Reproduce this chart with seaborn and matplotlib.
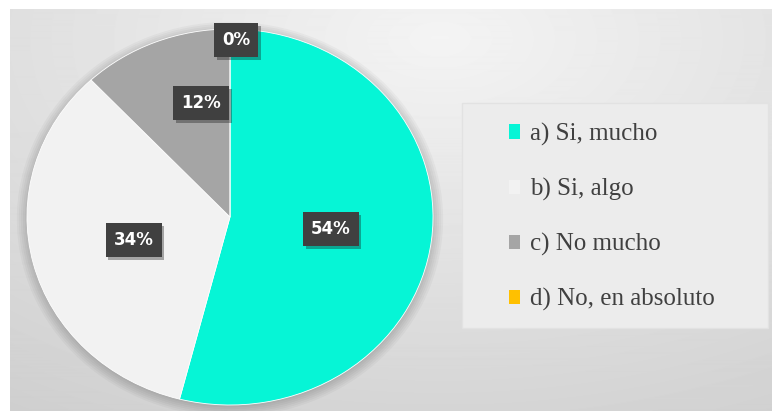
import numpy as np
import matplotlib
matplotlib.use("Agg")
import matplotlib.pyplot as plt
import seaborn as sns
from matplotlib.patches import Patch, Rectangle, Ellipse
from matplotlib import patheffects as pe

# Survey answers and their shares (%)
categories = ["a) Si, mucho", "b) Si, algo", "c) No mucho", "d) No, en absoluto"]
shares = [54, 34, 12, 0]
pct_labels = ["54%", "34%", "12%", "0%"]
colors = ["#06f5d6", "#f2f2f2", "#a5a5a5", "#ffc000"]

sns.set_style("white")
plt.rcParams["font.family"] = ["DejaVu Sans"]

W, H = 772, 411
fig = plt.figure(figsize=(W / 100, H / 100), dpi=100, facecolor="white")

# Soft radial gray backdrop
bg = fig.add_axes([10 / W, 0, (W - 10) / W, (H - 9) / H])
yy, xx = np.mgrid[0:H - 9, 0:W - 10]
d = np.sqrt(((xx - 430) / 700.0) ** 2 + ((yy - 30) / 400.0) ** 2)
shade = np.clip(0.955 - 0.13 * d, 0.0, 1.0)
bg.imshow(shade, cmap="gray", vmin=0, vmax=1, aspect="auto", interpolation="bilinear")
bg.set_axis_off()

# Pie axes (slightly stretched horizontally)
cx, cy, rx, ry = 230, 217, 203, 188
ax = fig.add_axes([(cx - rx) / W, (H - cy - ry) / H, 2 * rx / W, 2 * ry / H])
ax.set_xlim(-1, 1)
ax.set_ylim(-1, 1)

# soft drop shadow behind the pie
for k in range(6):
    sh = Ellipse((0.0, -0.012), 2 * (1.0 + 0.01 * k), 2 * (1.0 + 0.01 * k),
                 facecolor="black", edgecolor="none", alpha=0.03, zorder=0)
    sh.set_clip_on(False)
    ax.add_patch(sh)

wedges, _ = ax.pie(shares, colors=colors, startangle=90, counterclock=False,
                   radius=1.0, wedgeprops=dict(linewidth=0.6, edgecolor="white"))
ax.set_aspect("auto")
ax.set_xlim(-1.0, 1.0)
ax.set_ylim(-1.0, 1.0)
ax.set_axis_off()

# Data labels in dark boxes
label_dist = [0.50, 0.49, 0.63, 0.94]
label_shift = [(0.0, 0.0), (0.0, 0.0), (0.09, 0.02), (0.03, 0.0)]
for w, txt, r, (sx, sy) in zip(wedges, pct_labels, label_dist, label_shift):
    ang = np.deg2rad((w.theta1 + w.theta2) / 2.0)
    t = ax.text(r * np.cos(ang) + sx, r * np.sin(ang) + sy, txt, ha="center", va="center",
                color="white", fontsize=12, fontweight="bold", zorder=5,
                bbox=dict(boxstyle="square,pad=0.48", facecolor="#404040", edgecolor="none"))
    t.get_bbox_patch().set_path_effects([pe.SimplePatchShadow(offset=(2, -2), alpha=0.35),
                                         pe.Normal()])

# Legend panel
fig.patches.append(Rectangle((462 / W, (H - 328) / H), 306 / W, 225 / H,
                             transform=fig.transFigure, facecolor="#ececec",
                             edgecolor="#e2e2e2", linewidth=1.0, zorder=1))
handles = [Patch(facecolor=c, edgecolor="none") for c in colors]
leg = fig.legend(handles, categories, loc="center left",
                 bbox_to_anchor=(486 / W, (H - 217) / H), frameon=False,
                 prop={"family": "Liberation Serif", "size": 18},
                 labelcolor="#404040", handlelength=0.45, handleheight=0.5,
                 handletextpad=0.4, labelspacing=1.28)
leg.set_zorder(3)

fig.savefig("out.png", dpi=100, facecolor=fig.get_facecolor())
